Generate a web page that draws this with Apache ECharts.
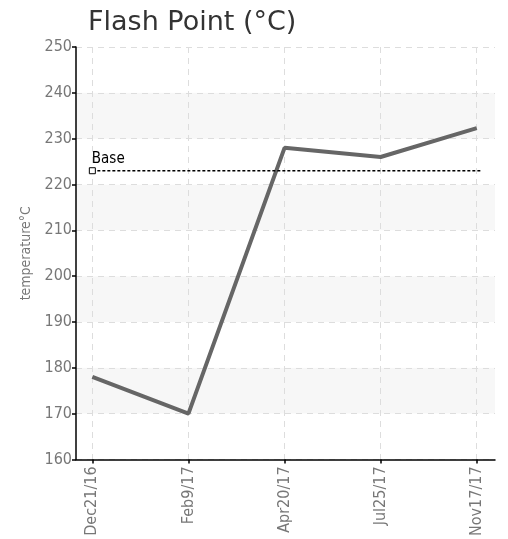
<!DOCTYPE html>
<html>
<head>
<meta charset="utf-8">
<script src="https://cdn.jsdelivr.net/npm/echarts@6/dist/echarts.min.js"></script>
<style>
  html, body { margin: 0; padding: 0; background: #fff; }
  #main { width: 508px; height: 539px; }
</style>
</head>
<body>
<div id="main"></div>
<script>
const dates = ["Dec21/16", "Feb9/17", "Apr20/17", "Jul25/17", "Nov17/17"];
const flashPoint = [178, 170, 228, 226, 232.3];
const baseValue = 223;
const yTicks = [160, 170, 180, 190, 200, 210, 220, 230, 240, 250];

const font = "DejaVu Sans Condensed";
const idx = dates.map((d, i) => i);

const chart = echarts.init(document.getElementById("main"));
chart.setOption({
  animation: false,
  title: {
    text: "Flash Point (\u00b0C)",
    left: 83,
    top: 4,
    textStyle: { fontFamily: "DejaVu Sans", fontWeight: "normal", fontSize: 27, color: "#333" }
  },
  grid: { left: 76, top: 47, right: 13, bottom: 75 },
  xAxis: {
    type: "value",
    min: -0.17,
    max: 4.19,
    axisLine: { onZero: false, lineStyle: { color: "#000", width: 1.5 } },
    axisTick: { customValues: idx, length: 4, lineStyle: { color: "#000", width: 1.5 } },
    axisLabel: {
      customValues: idx,
      rotate: 90,
      color: "#777",
      fontFamily: font,
      fontSize: 16,
      margin: 7,
      formatter: (v) => dates[Math.round(v)]
    },
    splitLine: { show: true, lineStyle: { color: "#ddd", type: [6, 5] } }
  },
  yAxis: {
    type: "value",
    min: yTicks[0],
    max: yTicks[yTicks.length - 1],
    interval: 10,
    name: "temperature\u00b0C",
    nameLocation: "middle",
    nameGap: 31,
    nameTextStyle: { color: "#777", fontFamily: font, fontSize: 14 },
    axisLine: { show: true, onZero: false, lineStyle: { color: "#000", width: 1.5 } },
    axisTick: { show: true, length: 4, lineStyle: { color: "#000", width: 1.5 } },
    axisLabel: { color: "#777", fontFamily: font, fontSize: 16, margin: 4 },
    splitLine: { show: true, lineStyle: { color: "#ddd", type: [6, 5] } },
    splitArea: { show: true, areaStyle: { color: ["#fff", "#f7f7f7"] } }
  },
  series: [
    {
      name: "Flash Point",
      type: "line",
      data: flashPoint.map((v, i) => [i, v]),
      showSymbol: false,
      lineStyle: { color: "#666", width: 4 },
      z: 3
    },
    {
      name: "Base",
      type: "line",
      data: [[0, baseValue], { value: [4.05, baseValue], symbol: "none" }],
      symbol: "rect",
      symbolSize: 6,
      showSymbol: true,
      itemStyle: { color: "#fff", borderColor: "#000", borderWidth: 1 },
      lineStyle: { color: "#000", width: 1.5, type: [3, 2] },
      label: {
        show: true,
        position: [3, -16],
        formatter: (p) => (p.dataIndex === 0 ? "Base" : ""),
        color: "#000",
        fontFamily: font,
        fontSize: 15
      },
      z: 4
    }
  ]
});
</script>
</body>
</html>
